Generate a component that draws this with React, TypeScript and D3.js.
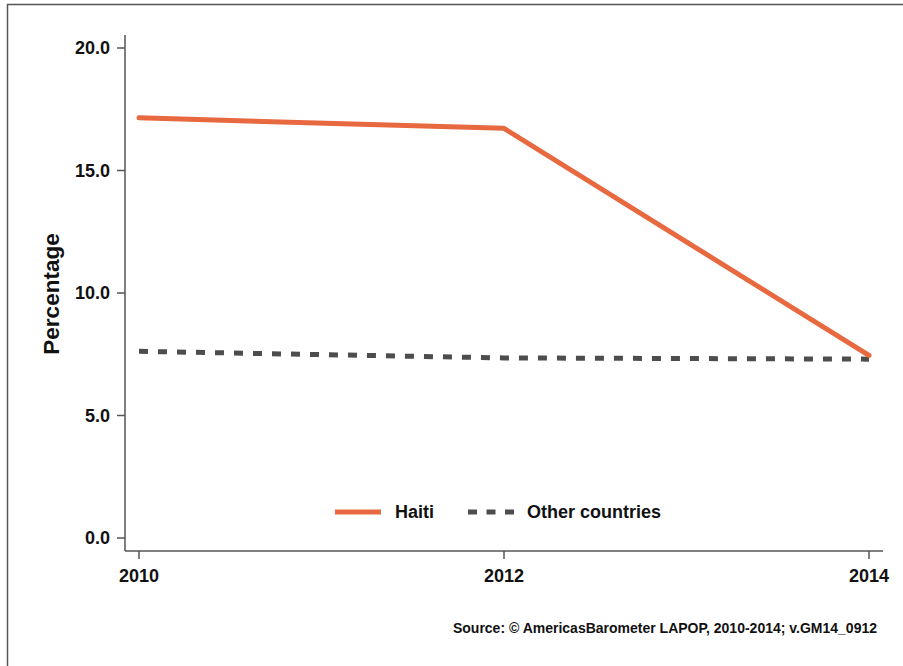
import React from "react";
import * as d3 from "d3";

const years = [2010, 2012, 2014];
const haiti = [17.15, 16.72, 7.45];
const others = [7.62, 7.35, 7.3];
const yTicks = [0, 5, 10, 15, 20];
const seriesNames = ["Haiti", "Other countries"];
const sourceText = "Source: \u00A9 AmericasBarometer LAPOP, 2010-2014; v.GM14_0912";

const W = 903;
const H = 666;
const FONT = "'Liberation Sans', Arial, Helvetica, sans-serif";

export default function App() {
  const x = d3.scaleLinear().domain([2010, 2014]).range([139, 869]);
  const y = d3.scaleLinear().domain([0, 20]).range([538, 48]);
  const line = d3
    .line<number>()
    .x((_, i) => x(years[i]))
    .y((d) => y(d));

  const axisColor = "#555";
  const haitiColor = "#E8683F";
  const otherColor = "#4d4d4d";

  return (
    <svg
      width={W}
      height={H}
      style={{ position: "absolute", left: 0, top: 0, display: "block", background: "#fff" }}
      fontFamily={FONT}
    >
      <rect x={7.5} y={4.5} width={W + 10} height={H + 10} fill="none" stroke="#555" strokeWidth={1.5} />
      {/* y axis */}
      <line x1={125} x2={125} y1={35} y2={551} stroke={axisColor} strokeWidth={1.5} />
      {yTicks.map((t) => (
        <g key={t}>
          <line x1={117} x2={125} y1={y(t)} y2={y(t)} stroke={axisColor} strokeWidth={1.5} />
          <text x={110} y={y(t)} dy="0.36em" textAnchor="end" fontSize={18} fontWeight="bold" fill="#111">
            {t.toFixed(1)}
          </text>
        </g>
      ))}
      {/* x axis */}
      <line x1={125} x2={883} y1={551} y2={551} stroke={axisColor} strokeWidth={1.5} />
      {years.map((yr) => (
        <g key={yr}>
          <line x1={x(yr)} x2={x(yr)} y1={551} y2={559} stroke={axisColor} strokeWidth={1.5} />
          <text x={x(yr)} y={582} textAnchor="middle" fontSize={18} fontWeight="bold" fill="#111">
            {yr}
          </text>
        </g>
      ))}
      <text
        transform="translate(59,294) rotate(-90)"
        textAnchor="middle"
        fontSize={22.5}
        fontWeight="bold"
        fill="#111"
      >
        Percentage
      </text>
      {/* lines */}
      <path
        d={line(others) || ""}
        fill="none"
        stroke={otherColor}
        strokeWidth={5}
        strokeDasharray="9 10"
      />
      <path
        d={line(haiti) || ""}
        fill="none"
        stroke={haitiColor}
        strokeWidth={5}
        strokeLinecap="round"
        strokeLinejoin="round"
      />
      {/* legend */}
      <line x1={335} x2={381} y1={512} y2={512} stroke={haitiColor} strokeWidth={5} />
      <text x={395} y={518} fontSize={18} fontWeight="bold" fill="#111">
        {seriesNames[0]}
      </text>
      <line x1={468} x2={514} y1={512} y2={512} stroke={otherColor} strokeWidth={5} strokeDasharray="9 9.5" />
      <text x={527} y={518} fontSize={18} fontWeight="bold" fill="#111">
        {seriesNames[1]}
      </text>
      <text x={877} y={633} textAnchor="end" fontSize={14} fontWeight="bold" fill="#111">
        {sourceText}
      </text>
    </svg>
  );
}
